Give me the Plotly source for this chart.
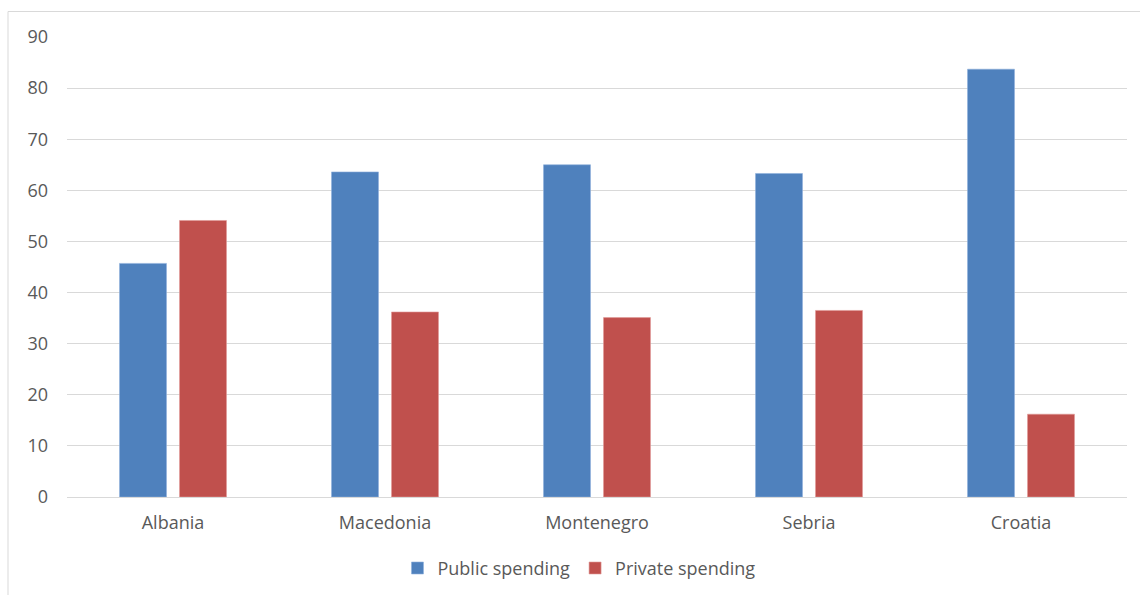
import plotly.graph_objects as go

countries = ["Albania", "Macedonia", "Montenegro", "Sebria", "Croatia"]
public_spending = [45.7, 63.6, 65.0, 63.3, 83.7]
private_spending = [54.1, 36.2, 35.1, 36.5, 16.2]
y_ticks = [0, 10, 20, 30, 40, 50, 60, 70, 80, 90]

FONT = "Open Sans"
TXT = "#595959"
GRID = "#d9d9d9"

fig = go.Figure()
fig.add_trace(go.Bar(name="Public spending", x=countries, y=public_spending,
                     marker=dict(color="#4F81BD", line=dict(color="#8fb0dc", width=0.6))))
fig.add_trace(go.Bar(name="Private spending", x=countries, y=private_spending,
                     marker=dict(color="#C0504D", line=dict(color="#e09a98", width=0.6))))

fig.update_layout(
    width=1140, height=595,
    margin=dict(l=67, r=13, t=37, b=98, autoexpand=False),
    paper_bgcolor="white", plot_bgcolor="white",
    barmode="group", bargap=0.434, bargroupgap=0.217,
    font=dict(family=FONT, size=18, color=TXT),
    showlegend=True,
    legend=dict(orientation="h", x=0.483, xanchor="center", y=-0.155, yanchor="middle",
                font=dict(family=FONT, size=18, color=TXT), itemwidth=30,
                traceorder="normal"),
    xaxis=dict(showgrid=False, showline=False, ticks="", ticklabelstandoff=13,
               automargin=False, tickfont=dict(family=FONT, size=18, color=TXT)),
    yaxis=dict(range=[0, 90], tickvals=y_ticks, showgrid=True, gridcolor=GRID, gridwidth=1,
               zeroline=True, zerolinecolor=GRID, zerolinewidth=1, showline=False, ticks="",
               automargin=False, ticklabelstandoff=18,
               tickfont=dict(family=FONT, size=18, color=TXT)),
    shapes=[dict(type="rect", xref="paper", yref="paper",
                 x0=(8 - 67) / 1060, x1=1.2, y0=-0.4, y1=(497 - 11.5) / 460,
                 line=dict(color=GRID, width=1), fillcolor="rgba(0,0,0,0)", layer="below")],
)

fig.write_html("out.html")
